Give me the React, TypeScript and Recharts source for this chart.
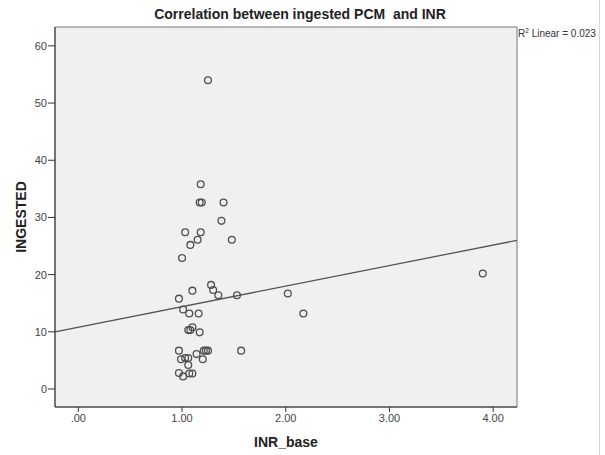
import React from 'react'
import {
  ScatterChart, Scatter, XAxis, YAxis, CartesianGrid,
  ReferenceLine, ReferenceArea, Label
} from 'recharts'

// INR_base vs INGESTED
const inrBase = [
  1.25, 1.18, 1.17, 1.19, 1.40, 1.38, 1.03, 1.18, 1.15, 1.48,
  1.08, 1.00, 1.28, 1.30, 1.10, 1.35, 1.53, 2.02, 0.97, 1.01,
  1.07, 1.16, 2.17, 1.10, 1.06, 1.08, 1.17, 0.97, 1.21, 1.23,
  1.25, 1.57, 1.14, 0.99, 1.03, 1.06, 1.20, 1.06, 0.97, 1.01,
  1.07, 1.10, 3.90
]
const ingested = [
  54.0, 35.8, 32.6, 32.6, 32.6, 29.4, 27.4, 27.4, 26.1, 26.1,
  25.2, 22.9, 18.2, 17.3, 17.2, 16.4, 16.4, 16.7, 15.8, 13.9,
  13.2, 13.2, 13.2, 10.8, 10.3, 10.3, 9.9, 6.7, 6.7, 6.7,
  6.7, 6.7, 6.1, 5.2, 5.4, 5.4, 5.2, 4.2, 2.8, 2.2,
  2.7, 2.7, 20.2
]

const xTicks = [0, 1, 2, 3, 4]
const yTicks = [0, 10, 20, 30, 40, 50, 60]

// linear fit, R² = 0.023
const fitIntercept = 10.81
const fitSlope = 3.59

const xDomain: [number, number] = [-0.225, 4.23]
const yDomain: [number, number] = [-3.15, 63.3]

const points = inrBase.map((x, i) => ({ x, y: ingested[i] }))

const fitSegment = xDomain.map(x => ({ x, y: fitIntercept + fitSlope * x }))

const font = '"Liberation Sans", Arial, sans-serif'

const OpenCircle = (props: any) => (
  <circle cx={props.cx} cy={props.cy} r={3.4} fill="none" stroke="#505050" strokeWidth={1.3} />
)

export default function App() {
  return (
    <div style={{ position: 'absolute', left: 0, top: 0, width: 605, height: 455, background: '#fff', fontFamily: font }}>
      <div style={{
        position: 'absolute', left: 0, width: 600, top: 6, textAlign: 'center',
        fontSize: 14, fontWeight: 'bold', color: '#222', whiteSpace: 'pre'
      }}>
        {'Correlation between ingested PCM  and INR'}
      </div>
      <div style={{
        position: 'absolute', left: 518, top: 27, fontSize: 10, color: '#333', whiteSpace: 'pre'
      }}>
        R<sup style={{ fontSize: 6.5 }}>2</sup> Linear = 0.023
      </div>
      <div style={{ position: 'absolute', left: 599, top: 0, width: 1, height: 455, background: '#d4d4d4' }} />
      <ScatterChart
        width={605}
        height={455}
        margin={{ top: 27, right: 88, left: 0, bottom: 0 }}
        style={{ fontFamily: font }}
      >
        <CartesianGrid horizontal={false} vertical={false} fill="#f0f0f0" />
        <ReferenceArea
          x1={xDomain[0]} x2={xDomain[1]} y1={yDomain[0]} y2={yDomain[1]}
          fill="none" stroke="#777" strokeWidth={1}
        />
        <XAxis
          type="number"
          dataKey="x"
          domain={xDomain}
          ticks={xTicks}
          allowDataOverflow
          height={48}
          tickSize={5}
          tickMargin={2}
          stroke="#333"
          tick={{ fontSize: 11, fill: '#444' }}
          tickFormatter={(v: number) => (v === 0 ? '.00' : v.toFixed(2))}
        >
          <Label
            content={() => (
              <text x={286} y={447} textAnchor="middle" fontSize={14} fontWeight="bold" fill="#222">
                INR_base
              </text>
            )}
          />
        </XAxis>
        <YAxis
          type="number"
          dataKey="y"
          domain={yDomain}
          ticks={yTicks}
          allowDataOverflow
          width={55}
          tickSize={7}
          tickMargin={1}
          stroke="#333"
          tick={{ fontSize: 11, fill: '#444' }}
        >
          <Label
            content={() => (
              <text
                x={21} y={217} textAnchor="middle" dominantBaseline="central"
                transform="rotate(-90 21 217)" fontSize={14} fontWeight="bold" fill="#222"
              >
                INGESTED
              </text>
            )}
          />
        </YAxis>
        <ReferenceLine
          segment={fitSegment}
          stroke="#555"
          strokeWidth={1.3}
        />
        <Scatter data={points} shape={OpenCircle} isAnimationActive={false} />
      </ScatterChart>
    </div>
  )
}
